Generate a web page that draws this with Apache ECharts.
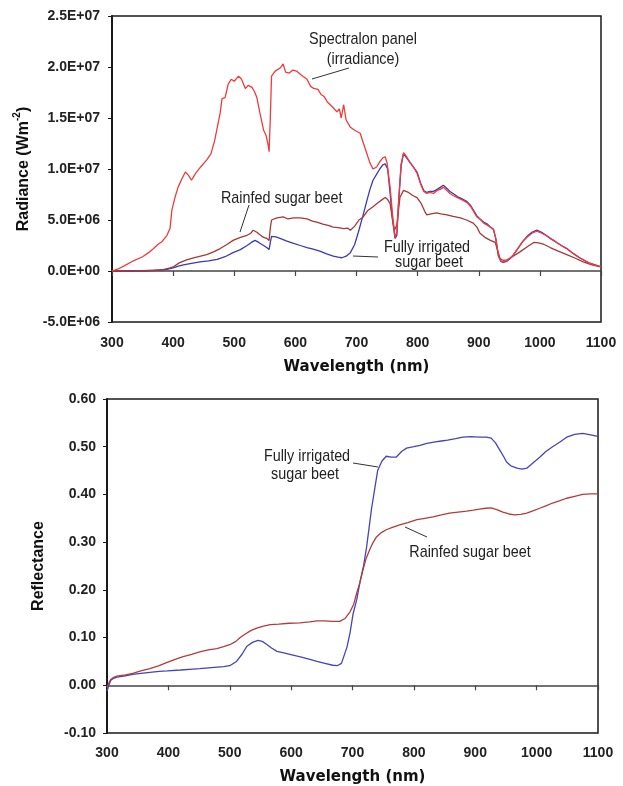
<!DOCTYPE html>
<html>
<head>
<meta charset="utf-8">
<script src="https://cdn.jsdelivr.net/npm/echarts@6/dist/echarts.min.js"></script>
<style>
html,body{margin:0;padding:0;background:#fff;}
#c{width:623px;height:786px;}
</style>
</head>
<body>
<div id="c"></div>
<script>
// ---------- Top panel: radiance ----------
const xTicks = [300, 400, 500, 600, 700, 800, 900, 1000, 1100];

const spectralonWl = [300,310,320,335,350,360,368,375,382,390,395,398,403,408,414,420,425,430,437,445,455,462,468,472,477,480,485,490,495,500,507,512,518,523,529,533,537,542,548,552,555,557,559,561,567,575,580,584,590,596,602,610,619,625,630,637,642,647,652,657,662,668,672,675,679,683,690,697,706,712,717,722,727,733,738,743,747,750,755,759,763,766,769,773,777,782,788,793,799,805,810,815,820,826,832,837,842,848,853,858,865,872,881,887,893,897,902,908,914,919,924,928,932,936,940,946,952,957,965,972,979,987,995,1003,1010,1017,1025,1035,1044,1055,1065,1071,1080,1090,1100];
const spectralonVal = [0,0.2e6,0.5e6,1.0e6,1.4e6,1.8e6,2.2e6,2.6e6,2.9e6,3.5e6,4.2e6,6.0e6,7.2e6,8.2e6,9.0e6,9.7e6,9.4e6,8.9e6,9.6e6,10.2e6,10.9e6,11.5e6,12.8e6,14.0e6,15.5e6,16.9e6,17.0e6,18.3e6,18.8e6,18.6e6,19.1e6,18.8e6,17.9e6,18.2e6,18.0e6,17.6e6,17.0e6,15.5e6,13.8e6,13.3e6,12.5e6,11.7e6,15.0e6,19.1e6,19.6e6,19.9e6,20.3e6,19.5e6,19.4e6,19.7e6,19.6e6,19.2e6,18.8e6,18.1e6,17.9e6,17.8e6,17.3e6,17.1e6,16.6e6,16.3e6,16.0e6,15.6e6,15.9e6,15.0e6,16.3e6,14.8e6,14.1e6,13.8e6,13.5e6,12.4e6,11.5e6,10.6e6,10.0e6,10.2e6,10.7e6,11.1e6,11.2e6,10.6e6,8.2e6,5.5e6,3.3e6,3.8e6,7.0e6,10.5e6,11.6e6,11.2e6,10.6e6,10.2e6,9.6e6,8.5e6,7.8e6,7.6e6,7.7e6,7.6e6,7.9e6,8.0e6,8.2e6,7.9e6,7.6e6,7.4e6,7.2e6,7.0e6,6.7e6,6.3e6,5.7e6,5.3e6,5.1e6,4.7e6,4.5e6,4.3e6,4.1e6,3.2e6,1.6e6,1.0e6,0.9e6,1.0e6,1.3e6,1.6e6,2.3e6,2.9e6,3.3e6,3.7e6,3.9e6,3.7e6,3.5e6,3.2e6,2.9e6,2.5e6,2.2e6,1.7e6,1.3e6,1.1e6,0.8e6,0.6e6,0.4e6];

const irrigRadWl = [300,340,360,380,390,400,410,417,430,444,458,472,485,498,510,521,528,534,540,548,553,557,559,561,568,575,585,597,608,619,629,640,650,662,670,676,683,690,697,703,710,717,722,727,733,738,743,747,751,755,759,763,766,769,773,777,782,788,793,799,805,810,815,820,826,832,837,842,848,853,858,865,872,881,887,893,897,902,908,914,919,924,928,932,936,940,946,952,957,965,972,979,987,995,1003,1010,1017,1025,1035,1044,1055,1065,1071,1080,1090,1100];
const irrigRadVal = [0,0,0.05e6,0.1e6,0.15e6,0.3e6,0.5e6,0.6e6,0.75e6,0.9e6,1.0e6,1.15e6,1.4e6,1.8e6,2.1e6,2.5e6,2.8e6,3.0e6,2.8e6,2.5e6,2.3e6,2.1e6,2.8e6,3.4e6,3.35e6,3.2e6,2.95e6,2.7e6,2.5e6,2.3e6,2.15e6,1.95e6,1.7e6,1.45e6,1.35e6,1.3e6,1.45e6,1.8e6,2.6e6,3.8e6,5.3e6,6.9e6,8.0e6,8.9e6,9.5e6,10.0e6,10.4e6,10.5e6,10.0e6,7.6e6,5.0e6,3.2e6,3.5e6,6.8e6,10.3e6,11.5e6,11.1e6,10.6e6,10.2e6,9.7e6,8.6e6,7.9e6,7.7e6,7.8e6,7.8e6,8.0e6,8.2e6,8.4e6,8.1e6,7.8e6,7.6e6,7.3e6,7.1e6,6.8e6,6.4e6,5.8e6,5.4e6,5.1e6,4.8e6,4.6e6,4.3e6,4.1e6,3.1e6,1.5e6,0.95e6,0.85e6,0.95e6,1.25e6,1.6e6,2.3e6,2.9e6,3.4e6,3.8e6,4.0e6,3.8e6,3.5e6,3.2e6,2.9e6,2.5e6,2.2e6,1.7e6,1.3e6,1.1e6,0.8e6,0.6e6,0.4e6];

const rainRadWl = [300,340,370,385,395,400,410,422,435,445,455,467,477,488,498,510,521,527,531,537,543,548,553,557,559,561,570,580,588,597,608,619,628,635,645,655,662,670,679,686,690,697,704,711,718,727,735,742,747,751,755,759,762,766,771,777,785,792,799,806,812,815,822,831,838,848,858,870,880,891,897,902,910,919,927,931,935,940,946,955,968,980,990,998,1007,1017,1030,1044,1058,1071,1085,1100];
const rainRadVal = [0,0,0.05e6,0.15e6,0.3e6,0.4e6,0.8e6,1.1e6,1.3e6,1.45e6,1.6e6,1.9e6,2.2e6,2.6e6,3.0e6,3.3e6,3.5e6,3.7e6,4.0e6,3.8e6,3.5e6,3.3e6,3.2e6,3.0e6,4.2e6,5.0e6,5.2e6,5.3e6,5.1e6,5.2e6,5.2e6,5.1e6,4.9e6,4.8e6,4.6e6,4.45e6,4.3e6,4.25e6,4.15e6,4.2e6,4.0e6,4.4e6,5.0e6,5.3e6,5.9e6,6.3e6,6.7e6,7.0e6,7.2e6,7.0e6,6.6e6,5.0e6,4.0e6,4.5e6,7.2e6,7.9e6,7.7e6,7.4e6,7.2e6,6.6e6,5.8e6,5.5e6,5.6e6,5.7e6,5.6e6,5.5e6,5.35e6,5.2e6,5.0e6,4.7e6,4.3e6,3.7e6,3.3e6,3.0e6,2.8e6,2.0e6,1.2e6,1.05e6,1.1e6,1.4e6,1.9e6,2.4e6,2.8e6,2.75e6,2.6e6,2.3e6,1.95e6,1.6e6,1.25e6,0.9e6,0.6e6,0.4e6];

// ---------- Bottom panel: reflectance ----------
const irrigRefWl = [300,303,306,310,316,330,342,355,370,385,398,420,440,451,470,490,500,511,520,528,537,546,553,560,568,577,588,598,610,620,632,642,655,668,675,682,691,696,701,707,712,718,723,727,731,736,741,748,755,763,771,780,788,800,810,821,835,845,855,868,880,893,907,918,926,933,940,946,951,958,968,976,984,993,1005,1015,1026,1038,1049,1062,1075,1088,1098,1100];
const irrigRefVal = [-0.012,0.0,0.01,0.014,0.017,0.02,0.023,0.025,0.027,0.029,0.03,0.032,0.034,0.035,0.037,0.039,0.041,0.05,0.065,0.082,0.09,0.094,0.092,0.086,0.078,0.071,0.068,0.065,0.061,0.058,0.054,0.05,0.046,0.042,0.041,0.046,0.08,0.11,0.15,0.18,0.215,0.25,0.29,0.33,0.37,0.41,0.45,0.47,0.48,0.478,0.478,0.49,0.497,0.5,0.503,0.507,0.51,0.512,0.514,0.517,0.52,0.521,0.52,0.52,0.518,0.508,0.493,0.48,0.468,0.46,0.455,0.453,0.455,0.465,0.478,0.49,0.5,0.51,0.52,0.526,0.528,0.525,0.522,0.521];

const rainRefWl = [300,303,306,310,316,330,342,355,370,385,398,410,424,438,451,465,479,490,500,510,517,526,535,544,555,566,580,597,614,630,642,655,667,679,688,696,702,707,712,717,722,728,733,739,747,755,765,777,790,805,818,831,845,858,872,886,897,907,917,926,935,945,955,964,974,984,995,1005,1015,1026,1038,1049,1062,1075,1088,1100];
const rainRefVal = [-0.005,0.005,0.012,0.016,0.019,0.022,0.025,0.03,0.035,0.041,0.048,0.054,0.06,0.065,0.07,0.074,0.077,0.081,0.085,0.092,0.1,0.108,0.115,0.12,0.124,0.127,0.128,0.13,0.131,0.133,0.135,0.135,0.134,0.134,0.14,0.154,0.17,0.194,0.215,0.242,0.265,0.284,0.298,0.311,0.32,0.326,0.331,0.336,0.341,0.347,0.35,0.353,0.357,0.361,0.363,0.365,0.367,0.369,0.371,0.372,0.368,0.363,0.359,0.357,0.358,0.361,0.366,0.371,0.376,0.382,0.387,0.392,0.396,0.4,0.401,0.401];

const zip = (xs, ys) => xs.map((x, i) => [x, ys[i]]);

function sci(v) {
  if (v === 0) return '0.0E+00';
  const s = v < 0 ? '-' : '';
  const a = Math.abs(v);
  const e = Math.floor(Math.log10(a) + 1e-9);
  const m = a / Math.pow(10, e);
  return s + m.toFixed(1) + 'E+' + String(e).padStart(2, '0');
}

const FONT = '"Liberation Sans", Arial, sans-serif';
const AXC = '#1a1a1a';
const tickLabel = { fontFamily: FONT, fontSize: 14, fontWeight: 'bold', color: '#222' };

const chart = echarts.init(document.getElementById('c'), null, { renderer: 'canvas' });

function xMain(gi, gap, margin) {
  return {
    type: 'value', gridIndex: gi, min: xTicks[0], max: xTicks[xTicks.length - 1], interval: 100, position: 'bottom',
    axisLine: { show: false, onZero: false },
    axisTick: { show: false },
    splitLine: { show: false },
    axisLabel: Object.assign({ margin: margin, formatter: v => String(v) }, tickLabel),
    name: 'Wavelength (nm)', nameLocation: 'middle', nameGap: gap,
    nameTextStyle: { fontFamily: '"DejaVu Sans", sans-serif', fontSize: 15, fontWeight: 'bold', color: '#111' }
  };
}
function xZero(gi, yi) {
  return {
    type: 'value', gridIndex: gi, min: xTicks[0], max: xTicks[xTicks.length - 1], interval: 100, position: 'bottom',
    axisLine: { show: true, onZero: true, onZeroAxisIndex: yi, lineStyle: { color: '#444', width: 1.5 } },
    axisTick: { show: true, inside: false, length: 5, lineStyle: { color: '#444', width: 1.2 } },
    axisLabel: { show: false },
    splitLine: { show: false }
  };
}

const option = {
  animation: false,
  backgroundColor: '#fff',
  grid: [
    { left: 112, top: 16, width: 489, height: 306, show: true, borderColor: AXC, borderWidth: 1.5, backgroundColor: 'transparent' },
    { left: 107, top: 399, width: 491, height: 335, show: true, borderColor: AXC, borderWidth: 1.5, backgroundColor: 'transparent' }
  ],
  xAxis: [ xMain(0, 38, 14), xZero(0, 0), xMain(1, 37, 13), xZero(1, 1) ],
  yAxis: [
    {
      type: 'value', gridIndex: 0, min: -5e6, max: 2.5e7, interval: 5e6,
      axisLine: { show: true, lineStyle: { color: AXC, width: 2 } },
      axisTick: { show: true, length: 4, lineStyle: { color: AXC } },
      splitLine: { show: false },
      axisLabel: Object.assign({ formatter: sci, margin: 12 }, tickLabel),
      name: '{b|Radiance (Wm}{s|-2}{b|)}', nameLocation: 'middle', nameGap: 80,
      nameTextStyle: {
        rich: {
          b: { fontFamily: FONT, fontSize: 16, fontWeight: 'bold', color: '#111', lineHeight: 20, verticalAlign: 'bottom' },
          s: { fontFamily: FONT, fontSize: 10, fontWeight: 'bold', color: '#111', lineHeight: 20, verticalAlign: 'top', padding: [0, 0, 6, 0] }
        }
      }
    },
    {
      type: 'value', gridIndex: 1, min: -0.1, max: 0.6, interval: 0.1,
      axisLine: { show: true, lineStyle: { color: AXC, width: 2 } },
      axisTick: { show: true, length: 4, lineStyle: { color: AXC } },
      splitLine: { show: false },
      axisLabel: Object.assign({ formatter: v => v.toFixed(2), margin: 11 }, tickLabel),
      name: 'Reflectance', nameLocation: 'middle', nameGap: 60,
      nameTextStyle: { fontFamily: FONT, fontSize: 16, fontWeight: 'bold', color: '#111' }
    }
  ],
  series: [
    { name: 'Fully irrigated sugar beet (radiance)', type: 'line', xAxisIndex: 0, yAxisIndex: 0, symbol: 'none',
      lineStyle: { color: '#3a3ab4', width: 1.3 }, data: zip(irrigRadWl, irrigRadVal) },
    { name: 'Rainfed sugar beet (radiance)', type: 'line', xAxisIndex: 0, yAxisIndex: 0, symbol: 'none',
      lineStyle: { color: '#a63838', width: 1.3 }, data: zip(rainRadWl, rainRadVal) },
    { name: 'Spectralon panel (irradiance)', type: 'line', xAxisIndex: 0, yAxisIndex: 0, symbol: 'none',
      lineStyle: { color: '#f23a3a', width: 1.3 }, data: zip(spectralonWl, spectralonVal) },
    { name: 'Fully irrigated sugar beet (reflectance)', type: 'line', xAxisIndex: 2, yAxisIndex: 1, symbol: 'none',
      lineStyle: { color: '#4444bc', width: 1.3 }, data: zip(irrigRefWl, irrigRefVal) },
    { name: 'Rainfed sugar beet (reflectance)', type: 'line', xAxisIndex: 2, yAxisIndex: 1, symbol: 'none',
      lineStyle: { color: '#b23c3c', width: 1.3 }, data: zip(rainRefWl, rainRefVal) }
  ]
};
chart.setOption(option);

// Annotations (text + leader lines), in pixel space; narrow-looking text via horizontal scaling
function txt(t, x, y, align) {
  return { type: 'text', x: x, y: y, scaleX: 0.845, scaleY: 1,
    style: { text: t, fontFamily: FONT, fontSize: 17, fill: '#222', align: align || 'center', verticalAlign: 'middle' }, z: 100 };
}
function ln(x1, y1, x2, y2) {
  return { type: 'line', shape: { x1: x1, y1: y1, x2: x2, y2: y2 }, style: { stroke: '#333', lineWidth: 1 }, z: 100 };
}
chart.setOption({
  graphic: [
    txt('Spectralon panel', 363, 39), txt('(irradiance)', 363, 59), ln(312, 79, 349, 68),
    txt('Rainfed sugar beet', 221, 198, 'left'), ln(249, 205, 240, 232),
    txt('Fully irrigated', 427, 247), txt('sugar beet', 429, 262), ln(353, 256, 378, 257),
    txt('Fully irrigated', 307, 456), txt('sugar beet', 305, 474), ln(353, 463, 378, 467),
    txt('Rainfed sugar beet', 470, 552), ln(405, 527, 427, 537)
  ]
});
</script>
</body>
</html>
